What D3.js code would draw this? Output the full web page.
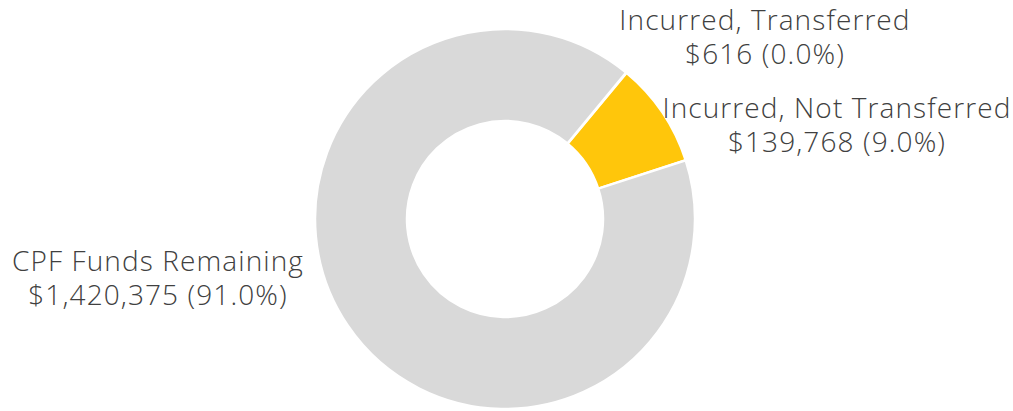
<!DOCTYPE html>
<html>
<head>
<meta charset="utf-8">
<script src="https://cdn.jsdelivr.net/npm/d3@7"></script>
<style>
  body { margin: 0; background: #fff; }
  svg text { font-family: "Open Sans", "DejaVu Sans", sans-serif; font-weight: 300; fill: #404040; letter-spacing: 1.1px; }
</style>
</head>
<body>
<div id="chart"></div>
<script>
// data
const categories = ["Incurred, Transferred", "Incurred, Not Transferred", "CPF Funds Remaining"];
const amounts = [616, 139768, 1420375];
const percentLabels = ["0.0%", "9.0%", "91.0%"];
const colors = ["#D9D9D9", "#FFC60B", "#D9D9D9"];

const width = 1013, height = 411;
const cx = 505, cy = 219;
const outerR = 190, innerR = 98;
const startDeg = 39.6;

// label anchors (centre x, first baseline y), placed like the original
const labelPos = [[765, 30], [837, 118], [158, 271]];

const svg = d3.select("#chart").append("svg")
  .attr("width", width)
  .attr("height", height);

const pie = d3.pie()
  .sort(null)
  .value(d => d)
  .startAngle(startDeg * Math.PI / 180)
  .endAngle((startDeg + 360) * Math.PI / 180);

const arc = d3.arc().innerRadius(innerR).outerRadius(outerR);

const g = svg.append("g").attr("transform", `translate(${cx},${cy})`);

g.selectAll("path")
  .data(pie(amounts))
  .join("path")
  .attr("d", arc)
  .attr("fill", (d, i) => colors[i])
  .attr("stroke", "#fff")
  .attr("stroke-width", 2.5)
  .attr("stroke-linejoin", "miter");

const fmt = d3.format(",");

categories.forEach((name, i) => {
  const t = svg.append("text")
    .attr("text-anchor", "middle")
    .attr("font-size", "28px");
  t.append("tspan")
    .attr("x", labelPos[i][0])
    .attr("y", labelPos[i][1])
    .text(name);
  t.append("tspan")
    .attr("x", labelPos[i][0])
    .attr("dy", 34)
    .text(`$${fmt(amounts[i])} (${percentLabels[i]})`);
});
</script>
</body>
</html>
